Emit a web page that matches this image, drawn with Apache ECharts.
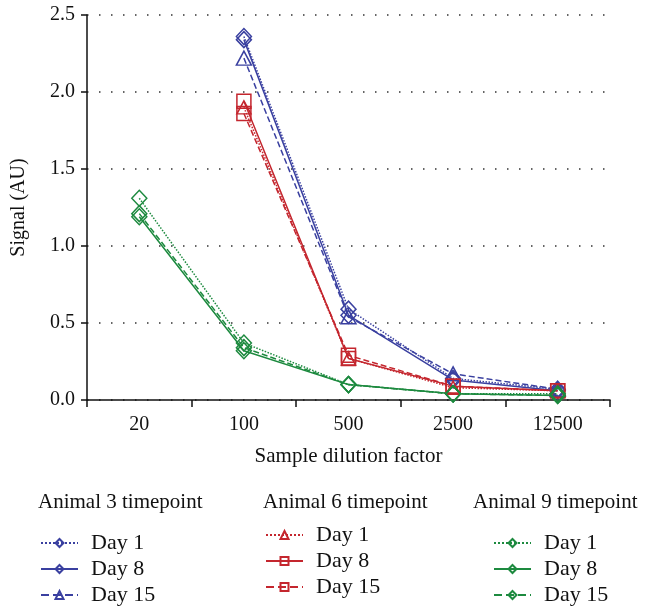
<!DOCTYPE html>
<html>
<head>
<meta charset="utf-8">
<script src="https://cdn.jsdelivr.net/npm/echarts@6/dist/echarts.min.js"></script>
<style>
  html, body { margin: 0; padding: 0; background: #fff; }
  #chart { width: 650px; height: 610px; }
</style>
</head>
<body>
<div id="chart"></div>
<script>
const categories = ['20', '100', '500', '2500', '12500'];

// Animal 3 (blue)
const a3Day1 = [null, 2.36, 0.59, 0.14, 0.07];
const a3Day8 = [null, 2.34, 0.55, 0.13, 0.06];
const a3Day15 = [null, 2.22, 0.54, 0.17, 0.07];
// Animal 6 (red)
const a6Day1 = [null, 1.90, 0.27, 0.08, 0.06];
const a6Day8 = [null, 1.94, 0.27, 0.09, 0.06];
const a6Day15 = [null, 1.86, 0.29, 0.09, 0.06];
// Animal 9 (green)
const a9Day1 = [1.31, 0.37, 0.10, 0.04, 0.04];
const a9Day8 = [1.19, 0.32, 0.10, 0.04, 0.03];
const a9Day15 = [1.21, 0.34, 0.10, 0.04, 0.03];

const BLUE = '#3a40a0';
const RED = '#c4262e';
const GREEN = '#1d8a3f';
const FONT = '"Liberation Serif", "DejaVu Serif", serif';

const chart = echarts.init(document.getElementById('chart'));

// hollow markers: no fill, coloured outline
const mkSeries = (name, data, color, lineType, symbol, size) => ({
  name,
  type: 'line',
  data,
  symbol,
  symbolSize: size,
  lineStyle: { color, width: 1.5, type: lineType },
  itemStyle: { color: 'rgba(255,255,255,0)', borderColor: color, borderWidth: 1.5 },
  emphasis: { disabled: true },
  z: 3
});

const legendBase = (left, top, names) => ({
  orient: 'vertical',
  left,
  top,
  height: 100,
  padding: 0,
  itemWidth: 37,
  itemHeight: 10,
  itemGap: 4,
  data: names,
  formatter: n => n.split('|')[1],
  textStyle: { fontFamily: FONT, fontSize: 22, color: '#111', padding: [0, 0, 0, 8] }
});

const titleStyle = { fontFamily: FONT, fontSize: 21, fontWeight: 'normal', color: '#111' };

chart.setOption({
  backgroundColor: '#fff',
  animation: false,
  title: [
    { text: 'Animal 3 timepoint', left: 33, top: 487, textStyle: titleStyle },
    { text: 'Animal 6 timepoint', left: 258, top: 487, textStyle: titleStyle },
    { text: 'Animal 9 timepoint', left: 468, top: 487, textStyle: titleStyle }
  ],
  legend: [
    legendBase(40, 532, ['A3|Day 1', 'A3|Day 8', 'A3|Day 15']),
    legendBase(265, 524, ['A6|Day 1', 'A6|Day 8', 'A6|Day 15']),
    legendBase(493, 532, ['A9|Day 1', 'A9|Day 8', 'A9|Day 15'])
  ],
  grid: { left: 87, right: 40, top: 15, bottom: 210 },
  xAxis: {
    type: 'category',
    data: categories,
    boundaryGap: true,
    name: 'Sample dilution factor',
    nameLocation: 'middle',
    nameGap: 46,
    nameTextStyle: { fontFamily: FONT, fontSize: 21, color: '#111' },
    axisLine: { lineStyle: { color: '#111', width: 1.5 } },
    axisTick: { show: true, length: 7, lineStyle: { color: '#111', width: 1.5 } },
    axisLabel: { fontFamily: FONT, fontSize: 20, color: '#111', margin: 15 },
    splitLine: { show: false }
  },
  yAxis: {
    type: 'value',
    min: 0,
    max: 2.5,
    interval: 0.5,
    name: 'Signal (AU)',
    nameLocation: 'middle',
    nameGap: 58,
    nameTextStyle: { fontFamily: FONT, fontSize: 20, color: '#111' },
    axisLine: { show: true, lineStyle: { color: '#111', width: 1.5 } },
    axisTick: { show: true, length: 6, lineStyle: { color: '#111', width: 1.5 } },
    axisLabel: { fontFamily: FONT, fontSize: 20, color: '#111', margin: 12, formatter: v => v.toFixed(1) },
    splitLine: { show: true, lineStyle: { color: '#333', width: 1.5, type: [1.5, 10.5] } }
  },
  series: [
    mkSeries('A3|Day 1', a3Day1, BLUE, 'dotted', 'diamond', [15, 16]),
    mkSeries('A3|Day 8', a3Day8, BLUE, 'solid', 'diamond', [15, 16]),
    mkSeries('A3|Day 15', a3Day15, BLUE, 'dashed', 'triangle', [15, 14]),
    mkSeries('A6|Day 1', a6Day1, RED, 'dotted', 'triangle', [14, 13]),
    mkSeries('A6|Day 8', a6Day8, RED, 'solid', 'rect', [14, 14]),
    mkSeries('A6|Day 15', a6Day15, RED, 'dashed', 'rect', [14, 14]),
    mkSeries('A9|Day 1', a9Day1, GREEN, 'dotted', 'diamond', [15, 16]),
    mkSeries('A9|Day 8', a9Day8, GREEN, 'solid', 'diamond', [15, 16]),
    mkSeries('A9|Day 15', a9Day15, GREEN, 'dashed', 'diamond', [15, 16])
  ]
});
</script>
</body>
</html>
